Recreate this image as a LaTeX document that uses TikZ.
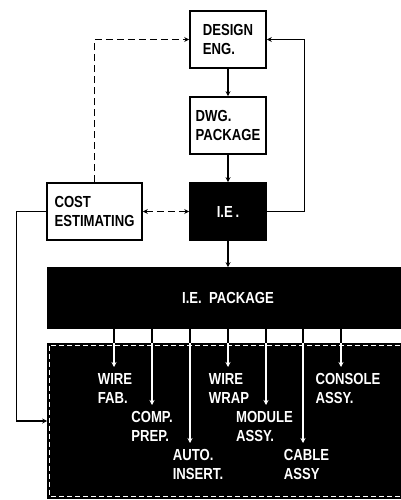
\documentclass[tikz,border=0pt]{standalone}
\usepackage{fontspec}
\setmainfont[FakeStretch=0.82]{Liberation Sans}
\usetikzlibrary{arrows.meta, positioning}

\begin{document}
\begin{tikzpicture}[x=1pt, y=-1pt, font=\fontsize{16}{19.5}\selectfont\bfseries,
    box/.style={draw, line width=1.6pt, align=left, inner sep=0pt,
      minimum width=76pt, minimum height=57pt},
    flow/.style={line width=1.3pt, -{Stealth[length=5pt, width=5pt]}},
    link/.style={line width=1.3pt, dash pattern=on 7pt off 4pt},
    tap/.style={line width=1.3pt, white, -{Stealth[length=5pt, width=5pt]}},
    tag/.style={text=white, align=left, inner sep=0pt, anchor=north}]
  \useasboundingbox[fill=white] (0,0) rectangle (401,500);
  % upper chain
  \node[box] (design) at (228,39.5) {DESIGN\\ENG.};
  \node[box] (dwg) at (228,125.5) {DWG.\\PACKAGE};
  \node[box, fill=black, text=white] (ie) at (228,211.5) {I.E\,.};
  \node[box, minimum width=95pt] (cost) at (94.5,211.5) {COST\\ESTIMATING};
  % package and shop floor
  \node[box, fill=black, text=white, minimum width=360pt, minimum height=60pt]
    (iepkg) at (228,298) {I.E.\ \ PACKAGE};
  \node[draw, fill=black, line width=1.6pt, minimum width=360pt, minimum height=154pt,
    inner sep=0pt] (shop) at (228,421) {};
  \draw[white, line width=1pt, dash pattern=on 5pt off 3pt]
    ([shift={(2.5,2.5)}]shop.north west) rectangle ([shift={(-2.5,-2.5)}]shop.south east);
  % connectors
  \draw[flow] (design) -- (dwg);
  \draw[flow] (dwg) -- (ie);
  \draw[flow] (ie) -- (iepkg);
  \draw[flow] (ie.east) -- ++(38,0) |- (design.east);
  \draw[link, -{Stealth[length=5pt, width=5pt]}] (cost.north) |- (design.west);
  \draw[link, {Stealth[length=5pt, width=5pt]}-{Stealth[length=5pt, width=5pt]}]
    (cost.east) -- (ie.west);
  \draw[flow] (cost.west) -- ++(-30,0) |- (shop.west);
  % work stations
  \foreach \x/\y/\txt/\dx [count=\i] in {
      114/367/{WIRE\\FAB.}/1, 152/405/{COMP.\\PREP.}/0, 190/443/{AUTO.\\INSERT.}/8,
      228/367/{WIRE\\WRAP}/1, 266/405/{MODULE\\ASSY.}/-1.5,
      303/443/{CABLE\\ASSY}/3.5, 341/367/{CONSOLE\\ASSY.}/7} {
    \coordinate (t\i) at (\x,\y);
    \draw[line width=1.3pt] (iepkg.south -| t\i) -- (shop.north -| t\i);
    \draw[tap] (shop.north -| t\i) -- (t\i);
    \node[tag] (s\i) at ([xshift=\dx pt, yshift=-6pt]t\i) {\txt};
  }
\end{tikzpicture}
\end{document}
